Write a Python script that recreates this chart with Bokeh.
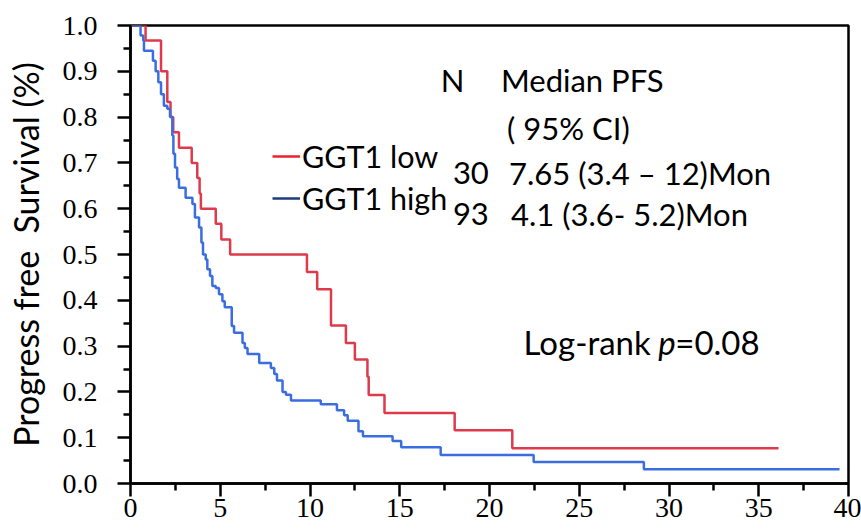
from bokeh.plotting import figure
from bokeh.models import FixedTicker, PrintfTickFormatter, Label, Legend, LegendItem
from bokeh.embed import file_html
from bokeh.resources import INLINE

# ---------------- data ----------------
low_time = [0, 0.84, 1.70, 2.05, 2.23, 2.38, 2.70, 3.41, 3.72, 3.85, 3.92,
            4.75, 5.06, 5.55, 9.83, 10.40, 11.17, 12.00, 12.50, 13.20, 13.27,
            14.15, 18.06, 21.27, 36.10]
low_surv = [1.0, 0.967, 0.900, 0.833, 0.800, 0.767, 0.733, 0.700, 0.667, 0.633, 0.600,
            0.567, 0.533, 0.500, 0.462, 0.424, 0.345, 0.307, 0.271, 0.233, 0.193,
            0.154, 0.116, 0.077, 0.077]

high_time = [0, 0.56, 0.71, 0.75, 1.25, 1.40, 1.55, 1.70, 1.86,
             2.05, 2.20, 2.33, 2.39, 2.48, 2.60, 2.70, 3.07, 3.45, 3.59, 3.82, 3.95,
             4.04, 4.19, 4.28, 4.43, 4.56, 4.75, 4.93, 5.12, 5.25, 5.64, 5.77,
             6.24, 6.37, 6.52, 7.17, 7.82, 8.01, 8.16, 8.47, 8.66, 8.94,
             10.60, 11.50, 11.90, 12.10, 12.70, 12.95, 14.60, 15.08, 17.28,
             22.46, 28.60, 39.50]
high_surv = [1.0, 0.978, 0.967, 0.945, 0.923, 0.900, 0.876, 0.850, 0.825,
             0.818, 0.800, 0.760, 0.720, 0.690, 0.665, 0.646, 0.624, 0.610, 0.581, 0.559, 0.526,
             0.500, 0.489, 0.468, 0.453, 0.431, 0.427, 0.413, 0.398, 0.385, 0.344, 0.329,
             0.307, 0.296, 0.283, 0.263, 0.252, 0.239, 0.225, 0.200, 0.194, 0.181,
             0.173, 0.160, 0.149, 0.137, 0.114, 0.103, 0.093, 0.079, 0.062,
             0.047, 0.031, 0.031]

x_ticks = [0, 5, 10, 15, 20, 25, 30, 35, 40]
x_minor = [2.5, 7.5, 12.5, 17.5, 22.5, 27.5, 32.5, 37.5]
y_ticks = [0.0, 0.1, 0.2, 0.3, 0.4, 0.5, 0.6, 0.7, 0.8, 0.9, 1.0]
y_minor = [0.05, 0.15, 0.25, 0.35, 0.45, 0.55, 0.65, 0.75, 0.85, 0.95]

group_labels = ["GGT1 low", "GGT1 high"]
group_n = ["30", "93"]
group_median = ["7.65 (3.4 \u2013 12)Mon", "4.1 (3.6- 5.2)Mon"]
header_texts = ["N", "Median PFS", "( 95% CI)"]
y_title = "Progress free\u00a0 Survival (%)"
stat_texts = ["Log-rank", "p", "=0.08"]

# ---------------- styles ----------------
RED = "#dd3b4b"
BLUE = "#3a6ee0"
LEG_RED = "#ee2030"
LEG_BLUE = "#1f3b7a"
SANS = "Lato"
SERIF = "Liberation Serif"
TXT = "31px"
NAN = float("nan")

p = figure(frame_width=718, frame_height=458,
           min_border_left=130, min_border_right=13, min_border_top=25, min_border_bottom=46,
           x_range=(0, 40), y_range=(0, 1),
           output_backend="svg", toolbar_location=None)
p.background_fill_color = "white"
p.border_fill_color = "white"
p.xgrid.visible = False
p.ygrid.visible = False
p.outline_line_color = "black"
p.outline_line_width = 2.5
p.outline_line_alpha = 1.0

p.step(low_time, low_surv, mode="after", line_color=RED, line_width=2.5)
p.step(high_time, high_surv, mode="after", line_color=BLUE, line_width=2.5)

p.xaxis.ticker = FixedTicker(ticks=x_ticks, minor_ticks=x_minor)
p.yaxis.ticker = FixedTicker(ticks=y_ticks, minor_ticks=y_minor)
p.yaxis.formatter = PrintfTickFormatter(format="%.1f")

for ax in (p.xaxis[0], p.yaxis[0]):
    ax.axis_line_width = 2.5
    ax.axis_line_color = "black"
    ax.major_tick_line_width = 2.5
    ax.minor_tick_line_width = 2.5
    ax.major_tick_line_color = "black"
    ax.minor_tick_line_color = "black"
    ax.major_tick_in = 0
    ax.major_tick_out = 13
    ax.minor_tick_in = 0
    ax.minor_tick_out = 7
    ax.major_label_text_font = SERIF
    ax.major_label_text_font_size = "28px"
    ax.major_label_text_color = "black"

p.xaxis.major_label_standoff = 2
p.yaxis.major_label_standoff = 20
p.yaxis.axis_label = y_title
p.yaxis.axis_label_text_font = SANS
p.yaxis.axis_label_text_font_size = "34px"
p.yaxis.axis_label_text_font_style = "normal"
p.yaxis.axis_label_text_color = "black"
p.yaxis.axis_label_standoff = 14

# legend (line samples + group names)
r_leg_low = p.line([NAN], [NAN], line_color=LEG_RED, line_width=2.5)
r_leg_high = p.line([NAN], [NAN], line_color=LEG_BLUE, line_width=2.5)
legend = Legend(items=[LegendItem(label=group_labels[0], renderers=[r_leg_low]),
                       LegendItem(label=group_labels[1], renderers=[r_leg_high])],
                location=(142, 264), orientation="vertical",
                padding=0, margin=0, spacing=0,
                glyph_width=28, glyph_height=42, label_height=42, label_standoff=2,
                label_text_font=SANS, label_text_font_size="30.5px", label_text_color="black",
                border_line_alpha=0, background_fill_alpha=0)
p.add_layout(legend)

def add_text(txt, x, y, size=TXT, style="normal"):
    p.add_layout(Label(x=x, y=y, text=txt, text_font=SANS, text_font_size=size,
                       text_font_style=style, text_color="black",
                       text_align="left", text_baseline="alphabetic"))

add_text(header_texts[0], 17.29, 0.882)
add_text(header_texts[1], 20.64, 0.882)
add_text(header_texts[2], 20.98, 0.777)
add_text(group_n[0], 17.96, 0.679)
add_text(group_median[0], 21.09, 0.679)
add_text(group_n[1], 17.96, 0.588)
add_text(group_median[1], 21.20, 0.588)
add_text(stat_texts[0], 21.90, 0.308, "33px")
add_text(stat_texts[1], 29.40, 0.308, "33px", "italic")
add_text(stat_texts[2], 30.35, 0.308, "33px")

open("out.html", "w").write(file_html(p, INLINE))
